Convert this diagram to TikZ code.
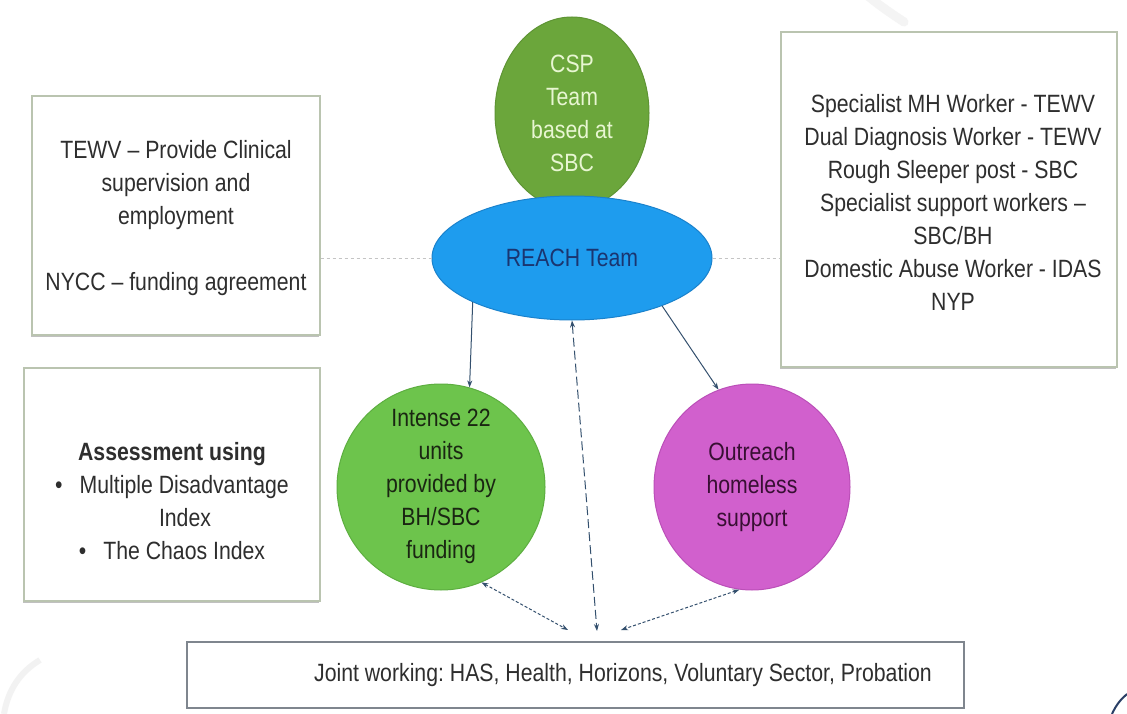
\documentclass[tikz,border=0pt]{standalone}
\usepackage{fontspec}
\setmainfont{Liberation Sans}[FakeStretch=0.85]
\usetikzlibrary{arrows.meta,shapes.geometric,shadows}
\frenchspacing
\definecolor{cspgreen}{HTML}{6BA63B}
\definecolor{cspline}{HTML}{5E9434}
\definecolor{csptext}{HTML}{E8F6D2}
\definecolor{reachblue}{HTML}{1E9CEE}
\definecolor{reachline}{HTML}{1A82CC}
\definecolor{reachtext}{HTML}{1A3570}
\definecolor{limegreen}{HTML}{6DC44C}
\definecolor{limeline}{HTML}{5DAE40}
\definecolor{limetext}{HTML}{1A2612}
\definecolor{magfill}{HTML}{D160CD}
\definecolor{magline}{HTML}{BB4FB8}
\definecolor{magtext}{HTML}{380F33}
\definecolor{boxline}{HTML}{BAC4B0}
\definecolor{boxtext}{HTML}{2E2E2E}
\definecolor{jointline}{HTML}{7F868E}
\definecolor{arrowcol}{HTML}{34506E}
\definecolor{dotcol}{HTML}{C4C4C4}
\definecolor{swoosh}{HTML}{2A3F66}
\tikzset{
  panel/.style={draw=boxline, line width=1.2pt, fill=white, inner sep=0pt,
    drop shadow={shadow xshift=-1.5pt, shadow yshift=-2pt, fill=gray!70, opacity=0.7}},
  jointbox/.style={draw=jointline, line width=1.6pt, fill=white, inner sep=0pt},
  blob/.style={ellipse, inner sep=0pt, line width=1pt},
  txt/.style={align=center, inner sep=0pt, text=boxtext},
  arr/.style={draw=arrowcol, line width=1pt, -{Stealth[length=7pt,width=5pt]}},
  darr/.style={draw=arrowcol, line width=1pt, {Stealth[length=7pt,width=5pt]}-{Stealth[length=7pt,width=5pt]}},
  dotline/.style={draw=dotcol, line width=1pt, dash pattern=on 3pt off 3pt}
}
\begin{document}
\begin{tikzpicture}[x=1pt,y=-1pt,font=\fontsize{25}{33}\selectfont]
\useasboundingbox (0,0) rectangle (1127,714);
\fill[white] (0,0) rectangle (1127,714);
% faint decorations
\draw[gray!9, line width=9pt, line cap=round] (868,-4) .. controls (880,6) and (892,14) .. (904,22);
\draw[gray!10, line width=6pt] (4,714) .. controls (8,690) and (20,672) .. (40,660);
\draw[swoosh, line width=2pt] (1112,714) .. controls (1116,705) and (1121,699) .. (1127,694);

% boxes
\node[panel, minimum width=288pt, minimum height=239pt] (tl) at (176,215.5) {};
\node[panel, minimum width=296pt, minimum height=233pt] (bl) at (172,484.5) {};
\node[panel, minimum width=336pt, minimum height=335pt] (rb) at (949,199.5) {};
\node[jointbox, minimum width=777pt, minimum height=66pt] (joint) at (575.5,675) {};

\node[txt] (tltext) at (176,218) {TEWV – Provide Clinical\\supervision and\\employment\\\mbox{}\\NYCC – funding agreement};
\node[txt] (bltext) at (172,501) {\textbf{Assessment using}\\\textbullet\hspace{17pt}Multiple Disadvantage\\\hspace*{26pt}Index\\\textbullet\hspace{17pt}The Chaos Index};
\node[txt] (rbtext) at (953,202) {Specialist MH Worker - TEWV\\Dual Diagnosis Worker - TEWV\\Rough Sleeper post - SBC\\Specialist support workers –\\SBC/BH\\Domestic Abuse Worker - IDAS\\NYP};
\node[txt] (jointtext) at (623,675) {Joint working: HAS, Health, Horizons, Voluntary Sector, Probation};

% circles
\node[blob, draw=cspline, fill=cspgreen, minimum width=154pt, minimum height=192pt] (csp) at (572,113) {};
\node[txt, text=csptext] (csptxt) at (csp.center) {CSP\\Team\\based at\\SBC};
\node[blob, draw=reachline, fill=reachblue, minimum width=280pt, minimum height=124pt] (reach) at (572,258) {};
\node[txt, text=reachtext] (reachtxt) at (reach.center) {REACH Team};
\node[blob, draw=limeline, fill=limegreen, minimum width=208pt, minimum height=206pt] (intense) at (441,487) {};
\node[txt, text=limetext] (intensetxt) at (441,486) {Intense 22\\units\\provided by\\BH/SBC\\funding};
\node[blob, draw=magline, fill=magfill, minimum width=196pt, minimum height=206pt] (outreach) at (752,487) {};
\node[txt, text=magtext] (outreachtxt) at (outreach.center) {Outreach\\homeless\\support};

% connectors
\draw[dotline] (reach.west -| tl.east) -- (reach.west);
\draw[dotline] (reach.east) -- (reach.east -| rb.west);
\draw[arr] (reach.204) -- (intense.74);
\draw[arr] (reach.-28) -- (outreach.109);
\coordinate (gEnd) at (568,630);
\coordinate (dEnd) at (597,631);
\coordinate (mEnd) at (621,630);
\draw[darr, dash pattern=on 9pt off 4pt] (reach.south) -- (dEnd);
\draw[darr, dash pattern=on 3pt off 2pt] (intense.-67) -- (gEnd);
\draw[darr, dash pattern=on 3pt off 2pt] (outreach.-97) -- (mEnd);
\end{tikzpicture}
\end{document}
